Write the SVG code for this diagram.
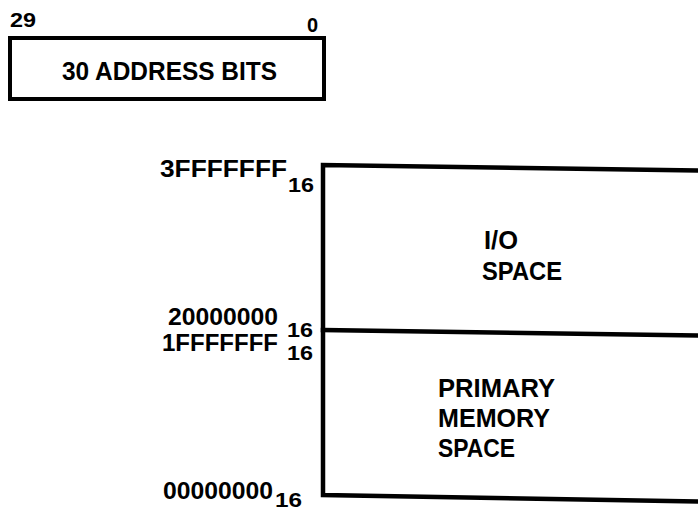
<svg xmlns="http://www.w3.org/2000/svg" width="698" height="512" viewBox="0 0 698 512">
<style>
text{font-family:"Liberation Sans",Arial,sans-serif;font-weight:bold;fill:#000}
.lbl{font-size:25px}
.adr{font-size:24px}
.sub{font-size:21px}
.big{font-size:26px}
.ln{stroke:#000;stroke-width:4.5;fill:none;stroke-linecap:square}
</style>
<rect width="698" height="512" fill="#fff"/>
<g id="address-register">
<rect x="10" y="38" width="314" height="61" fill="none" stroke="#000" stroke-width="4"/>
<text x="10" y="27" style="font-size:20px" textLength="26" lengthAdjust="spacingAndGlyphs">29</text>
<text x="307" y="32" style="font-size:20px">0</text>
<text class="big" x="62" y="80" textLength="215" lengthAdjust="spacingAndGlyphs">30 ADDRESS BITS</text>
</g>
<g id="connectors">
<polyline class="ln" points="698,170.5 323,165 323,495 698,501.5"/>
<line class="ln" x1="323" y1="330" x2="698" y2="335.5"/>
</g>
<g id="io-space">
<text class="lbl" x="484" y="249" textLength="34" lengthAdjust="spacingAndGlyphs">I/O</text>
<text class="lbl" x="482" y="280" textLength="80" lengthAdjust="spacingAndGlyphs">SPACE</text>
</g>
<g id="primary-memory-space">
<text class="lbl" x="438" y="397" textLength="117" lengthAdjust="spacingAndGlyphs">PRIMARY</text>
<text class="lbl" x="438" y="427" textLength="112" lengthAdjust="spacingAndGlyphs">MEMORY</text>
<text class="lbl" x="438" y="457" textLength="77" lengthAdjust="spacingAndGlyphs">SPACE</text>
</g>
<g id="address-labels">
<text class="adr" x="160" y="177" textLength="127" lengthAdjust="spacingAndGlyphs">3FFFFFFF</text>
<text class="sub" x="288" y="192" textLength="26" lengthAdjust="spacingAndGlyphs">16</text>
<text class="adr" x="168" y="325" textLength="110" lengthAdjust="spacingAndGlyphs">20000000</text>
<text class="sub" x="287" y="337" textLength="26" lengthAdjust="spacingAndGlyphs">16</text>
<text class="adr" x="162" y="351" textLength="116" lengthAdjust="spacingAndGlyphs">1FFFFFFF</text>
<text class="sub" x="287" y="360" textLength="26" lengthAdjust="spacingAndGlyphs">16</text>
<text class="adr" x="163" y="499" textLength="110" lengthAdjust="spacingAndGlyphs">00000000</text>
<text class="sub" x="275" y="507" textLength="27" lengthAdjust="spacingAndGlyphs">16</text>
</g>
</svg>
